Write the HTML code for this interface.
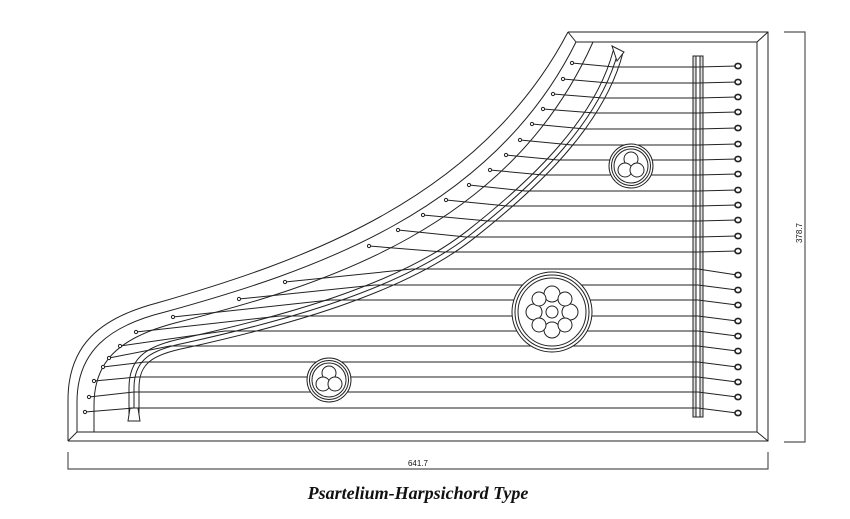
<!DOCTYPE html>
<html><head><meta charset="utf-8"><style>
html,body{margin:0;padding:0;background:#fff;}
svg{display:block;}
</style></head><body>
<svg width="850" height="519" viewBox="0 0 850 519" xmlns="http://www.w3.org/2000/svg">
<g fill="none" stroke="#222" stroke-width="1">
<!-- frame -->
<path d="M68,441 L768,441 L768,32 L568,32"/>
<path d="M77,432 L757,432 L757,42 L576,42"/>
<path d="M568,32 L576,42 M768,32 L757,42 M768,441 L757,432 M68,441 L77,432"/>
<path d="M68,441 L68,400 C68,345 100,318 157,303 C300,262 480,200 568,32"/>
<path d="M77,432 L77,402 C77,352 108,326 165,312 C310,272 492,212 576,42"/>
<path d="M94,432 L94,405 C94,362 118,338 175,323 C325,285 510,228 593,42"/>
<!-- curved bridge -->
<path d="M134,420 L134,388 C134,360 150,350 185,343 C280,322 400,290 470,235 C540,180 600,120 618,52" stroke-width="11"/>
<path d="M134,420 L134,388 C134,360 150,350 185,343 C280,322 400,290 470,235 C540,180 600,120 618,52" stroke="#fff" stroke-width="9"/>
<path d="M134,420 L134,388 C134,360 150,350 185,343 C280,322 400,290 470,235 C540,180 600,120 618,52" stroke-width="1"/>
<path d="M128,421 L140,421 L138,408 L130,408 Z" fill="#fff"/>
<path d="M612,46 L624,52 L617,61 Z" fill="#fff"/>
<!-- right bridge -->
<rect x="693" y="56" width="10" height="361" fill="#ddd"/>
<rect x="696" y="56" width="4" height="361" fill="#fff"/>
<!-- strings -->
<polyline points="572,63 614,67 698,67 737,66"/>
<polyline points="563,79 609,83 698,83 737,82"/>
<polyline points="553,94 603,98 698,98 737,97"/>
<polyline points="543,109 595,113 698,113 737,112"/>
<polyline points="532,124 585,129 698,129 737,128"/>
<polyline points="520,140 572,145 698,145 737,144"/>
<polyline points="506,155 558,160 698,160 737,159"/>
<polyline points="490,170 543,175 698,175 737,174"/>
<polyline points="469,185 525,191 698,191 737,190"/>
<polyline points="446,200 507,206 698,206 737,205"/>
<polyline points="423,215 488,221 698,221 737,220"/>
<polyline points="398,230 466,237 698,237 737,236"/>
<polyline points="369,246 443,252 698,252 737,251"/>
<polyline points="285,282 412,269 698,269 737,275"/>
<polyline points="239,299 375,285 698,285 737,290"/>
<polyline points="173,317 330,300 698,300 737,305"/>
<polyline points="136,332 280,316 698,316 737,321"/>
<polyline points="120,346 225,331 698,331 737,336"/>
<polyline points="109,358 170,346 698,346 737,351"/>
<polyline points="103,367 145,362 698,362 737,367"/>
<polyline points="94,381 137,377 698,377 737,382"/>
<polyline points="89,397 134,392 698,392 737,397"/>
<polyline points="85,412 134,408 698,408 737,413"/>
<!-- left pins -->
<g fill="#fff">
<circle cx="572" cy="63" r="1.6"/><circle cx="563" cy="79" r="1.6"/><circle cx="553" cy="94" r="1.6"/><circle cx="543" cy="109" r="1.6"/><circle cx="532" cy="124" r="1.6"/><circle cx="520" cy="140" r="1.6"/><circle cx="506" cy="155" r="1.6"/><circle cx="490" cy="170" r="1.6"/><circle cx="469" cy="185" r="1.6"/><circle cx="446" cy="200" r="1.6"/><circle cx="423" cy="215" r="1.6"/><circle cx="398" cy="230" r="1.6"/><circle cx="369" cy="246" r="1.6"/><circle cx="285" cy="282" r="1.6"/><circle cx="239" cy="299" r="1.6"/><circle cx="173" cy="317" r="1.6"/><circle cx="136" cy="332" r="1.6"/><circle cx="120" cy="346" r="1.6"/><circle cx="109" cy="358" r="1.6"/><circle cx="103" cy="367" r="1.6"/><circle cx="94" cy="381" r="1.6"/><circle cx="89" cy="397" r="1.6"/><circle cx="85" cy="412" r="1.6"/>
</g>
<!-- tuning pins -->
<g fill="#fff" stroke-width="1.6">
<ellipse cx="738" cy="66" rx="3" ry="2.6"/><ellipse cx="738" cy="82" rx="3" ry="2.6"/><ellipse cx="738" cy="97" rx="3" ry="2.6"/><ellipse cx="738" cy="112" rx="3" ry="2.6"/><ellipse cx="738" cy="128" rx="3" ry="2.6"/><ellipse cx="738" cy="144" rx="3" ry="2.6"/><ellipse cx="738" cy="159" rx="3" ry="2.6"/><ellipse cx="738" cy="174" rx="3" ry="2.6"/><ellipse cx="738" cy="190" rx="3" ry="2.6"/><ellipse cx="738" cy="205" rx="3" ry="2.6"/><ellipse cx="738" cy="220" rx="3" ry="2.6"/><ellipse cx="738" cy="236" rx="3" ry="2.6"/><ellipse cx="738" cy="251" rx="3" ry="2.6"/>
<ellipse cx="738" cy="275" rx="3" ry="2.6"/><ellipse cx="738" cy="290" rx="3" ry="2.6"/><ellipse cx="738" cy="305" rx="3" ry="2.6"/><ellipse cx="738" cy="321" rx="3" ry="2.6"/><ellipse cx="738" cy="336" rx="3" ry="2.6"/><ellipse cx="738" cy="351" rx="3" ry="2.6"/><ellipse cx="738" cy="367" rx="3" ry="2.6"/><ellipse cx="738" cy="382" rx="3" ry="2.6"/><ellipse cx="738" cy="397" rx="3" ry="2.6"/><ellipse cx="738" cy="413" rx="3" ry="2.6"/>
</g>
<!-- rosettes small -->
<g fill="#fff">
<circle cx="631" cy="166" r="22"/><circle cx="631" cy="166" r="19.5"/><circle cx="631" cy="166" r="17"/>
<circle cx="631" cy="159" r="7"/><circle cx="625" cy="170" r="7"/><circle cx="637" cy="170" r="7"/>
<circle cx="329" cy="380" r="22"/><circle cx="329" cy="380" r="19.5"/><circle cx="329" cy="380" r="17"/>
<circle cx="329" cy="373" r="7"/><circle cx="323" cy="384" r="7"/><circle cx="335" cy="384" r="7"/>
<!-- large -->
<circle cx="552" cy="312" r="40"/><circle cx="552" cy="312" r="37"/><circle cx="552" cy="312" r="34"/>
<circle cx="552" cy="294" r="8"/><circle cx="570" cy="312" r="8"/><circle cx="552" cy="330" r="8"/><circle cx="534" cy="312" r="8"/>
<circle cx="565" cy="299" r="7"/><circle cx="565" cy="325" r="7"/><circle cx="539" cy="325" r="7"/><circle cx="539" cy="299" r="7"/>
<circle cx="552" cy="312" r="6"/>
</g>
<!-- dimensions -->
<path d="M784,32 L805,32 L805,442 L784,442" stroke="#555" stroke-width="1.2"/>
<path d="M68,452 L68,469 L768,469 L768,452" stroke="#555" stroke-width="1.2"/>
</g>
<text x="418" y="466" font-family="Liberation Sans, sans-serif" font-size="8" text-anchor="middle" fill="#111">641.7</text>
<text transform="translate(802,233) rotate(-90)" font-family="Liberation Sans, sans-serif" font-size="8" text-anchor="middle" fill="#111">378.7</text>
<text x="418" y="499" font-family="Liberation Serif, serif" font-size="18" font-weight="bold" font-style="italic" text-anchor="middle" fill="#111">Psartelium-Harpsichord Type</text>
</svg>
</body></html>
